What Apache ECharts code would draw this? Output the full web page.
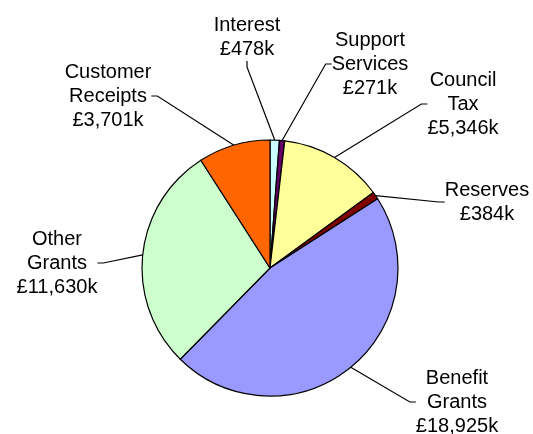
<!DOCTYPE html>
<html>
<head>
<meta charset="utf-8">
<script src="https://cdn.jsdelivr.net/npm/echarts@6/dist/echarts.min.js"></script>
<style>
html,body{margin:0;padding:0;background:#fff;}
#chart{width:533px;height:434px;}
</style>
</head>
<body>
<div id="chart"></div>
<script>
// Data (values in £ thousands)
var categories = ['Interest', 'Support Services', 'Council Tax', 'Reserves', 'Benefit Grants', 'Other Grants', 'Customer Receipts'];
var labelNames = ['Interest', 'Support\nServices', 'Council\nTax', 'Reserves', 'Benefit\nGrants', 'Other\nGrants', 'Customer\nReceipts'];
var values = [478, 271, 5346, 384, 18925, 11630, 3701];

// Styling
var colors = ['#CCFFFF', '#660066', '#FFFF99', '#800000', '#9999FF', '#CCFFCC', '#FF6600'];
var labelCenters = [[247, 37], [370, 64], [463, 104], [487, 202], [457, 402], [57, 263], [108, 96]];

function fmt(v) {
  return '£' + v.toString().replace(/\B(?=(\d{3})+(?!\d))/g, ',') + 'k';
}

var chart = echarts.init(document.getElementById('chart'), null, {renderer: 'canvas'});
var data = categories.map(function (c, i) {
  return {name: c, value: values[i], itemStyle: {color: colors[i]}};
});

chart.setOption({
  animation: false,
  backgroundColor: '#ffffff',
  series: [{
    type: 'pie',
    center: [270, 268],
    radius: 128,
    startAngle: 90,
    clockwise: true,
    avoidLabelOverlap: false,
    data: data,
    itemStyle: {borderColor: '#000', borderWidth: 1.2},
    label: {
      show: true,
      position: 'outside',
      color: '#000',
      fontFamily: 'Arial, "Liberation Sans", sans-serif',
      fontSize: 20,
      lineHeight: 24,
      align: 'center',
      formatter: function (p) {
        return labelNames[p.dataIndex] + '\n' + fmt(p.value);
      }
    },
    labelLine: {show: true, length: 10, length2: 6, lineStyle: {color: '#000', width: 1.2}},
    emphasis: {disabled: true},
    labelLayout: function (params) {
      var c = labelCenters[params.dataIndex];
      return {x: c[0], y: c[1], align: 'center', verticalAlign: 'middle'};
    }
  }]
});
</script>
</body>
</html>
